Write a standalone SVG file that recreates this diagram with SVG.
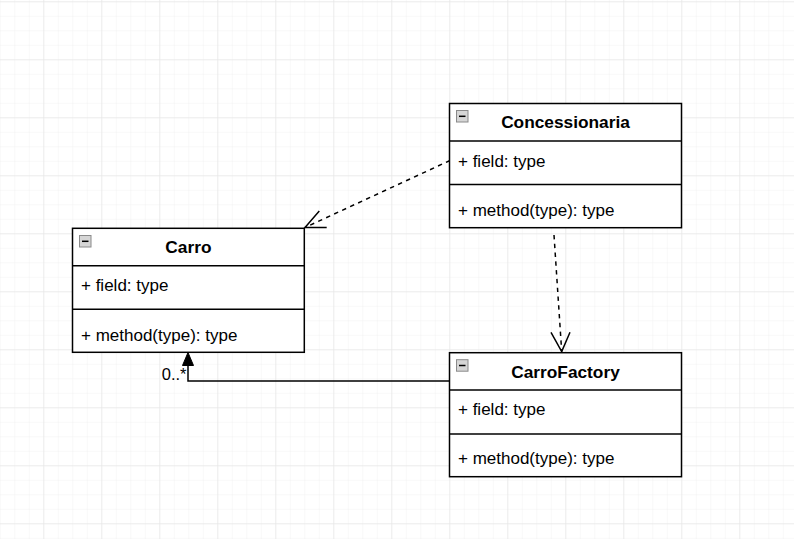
<svg xmlns="http://www.w3.org/2000/svg" width="794" height="539" viewBox="0 0 794 539">
<defs>
<pattern id="minor" patternUnits="userSpaceOnUse" x="43.3" y="1.3" width="14.5" height="14.5">
<path d="M0 0 H14.5 M0 0 V14.5" fill="none" stroke="#f1f1f1" stroke-width="1"/>
</pattern>
<pattern id="major" patternUnits="userSpaceOnUse" x="43.3" y="1.3" width="58" height="58">
<path d="M0 0 H58 M0 0 V58" fill="none" stroke="#e2e2e2" stroke-width="1"/>
</pattern>
</defs>
<style>
.box{fill:#ffffff;stroke:#000000;stroke-width:1.5}
.sep{stroke:#000000;stroke-width:1.5}
.title{font-family:"Liberation Sans",Arial,sans-serif;font-size:17.3px;font-weight:bold;fill:#000;text-anchor:middle}
.item{font-family:"Liberation Sans",Arial,sans-serif;font-size:17px;fill:#000}
.lbl{font-family:"Liberation Sans",Arial,sans-serif;font-size:16.5px;fill:#000;text-anchor:end}
.icon{fill:#d6d6d6;stroke:#8a8a8a;stroke-width:1}
.minus{stroke:#000;stroke-width:1.5}
.dash{fill:none;stroke:#000;stroke-width:1.5;stroke-dasharray:4.4 4.4}
.open{fill:none;stroke:#000;stroke-width:1.5}
.solid{fill:none;stroke:#000;stroke-width:1.5}
</style>
<rect width="794" height="539" fill="#ffffff"/>
<rect width="794" height="539" fill="url(#minor)"/>
<rect width="794" height="539" fill="url(#major)"/>

<g id="connectors">
<g id="edge-concessionaria-carro">
<path class="dash" d="M450 160.5 L305 227.5"/>
<path class="open" d="M319.3 211 L305 227.5 L326.7 227.5"/>
</g>
<g id="edge-concessionaria-factory">
<path class="dash" d="M554 235 L561.7 351.5"/>
<path class="open" d="M551 332.3 L561.7 351.5 L570 332.3"/>
</g>
<g id="edge-factory-carro">
<path class="solid" d="M449 381 H188 V365"/>
<path d="M188 352.5 L182.5 365.5 L193.5 365.5 Z" fill="#000" stroke="#000" stroke-width="1"/>
<text class="lbl" x="186.5" y="379.5">0..*</text>
</g>
</g>

<g id="carro">
<rect class="box" x="72.5" y="228.3" width="231.8" height="124"/>
<line class="sep" x1="72.5" y1="265.8" x2="304.3" y2="265.8"/>
<line class="sep" x1="72.5" y1="309.3" x2="304.3" y2="309.3"/>
<rect class="icon" x="79.5" y="235.5" width="11.5" height="11.5"/>
<line class="minus" x1="82" y1="241.3" x2="88.5" y2="241.3"/>
<text class="title" x="188.4" y="253.3">Carro</text>
<text class="item" x="81" y="290.7">+ field: type</text>
<text class="item" x="81" y="340.7">+ method(type): type</text>
</g>

<g id="concessionaria">
<rect class="box" x="449.5" y="103.5" width="232" height="124.2"/>
<line class="sep" x1="449.5" y1="141" x2="681.5" y2="141"/>
<line class="sep" x1="449.5" y1="184.5" x2="681.5" y2="184.5"/>
<rect class="icon" x="456.5" y="110.5" width="11.5" height="11.5"/>
<line class="minus" x1="459" y1="116.3" x2="465.5" y2="116.3"/>
<text class="title" x="565.5" y="128.3">Concessionaria</text>
<text class="item" x="458" y="166.7">+ field: type</text>
<text class="item" x="458" y="215.7">+ method(type): type</text>
</g>

<g id="carrofactory">
<rect class="box" x="449.5" y="352.7" width="232" height="124"/>
<line class="sep" x1="449.5" y1="390" x2="681.5" y2="390"/>
<line class="sep" x1="449.5" y1="434" x2="681.5" y2="434"/>
<rect class="icon" x="456.5" y="359.7" width="11.5" height="11.5"/>
<line class="minus" x1="459" y1="365.5" x2="465.5" y2="365.5"/>
<text class="title" x="565.5" y="377.7">CarroFactory</text>
<text class="item" x="458" y="415">+ field: type</text>
<text class="item" x="458" y="464.3">+ method(type): type</text>
</g>
</svg>
